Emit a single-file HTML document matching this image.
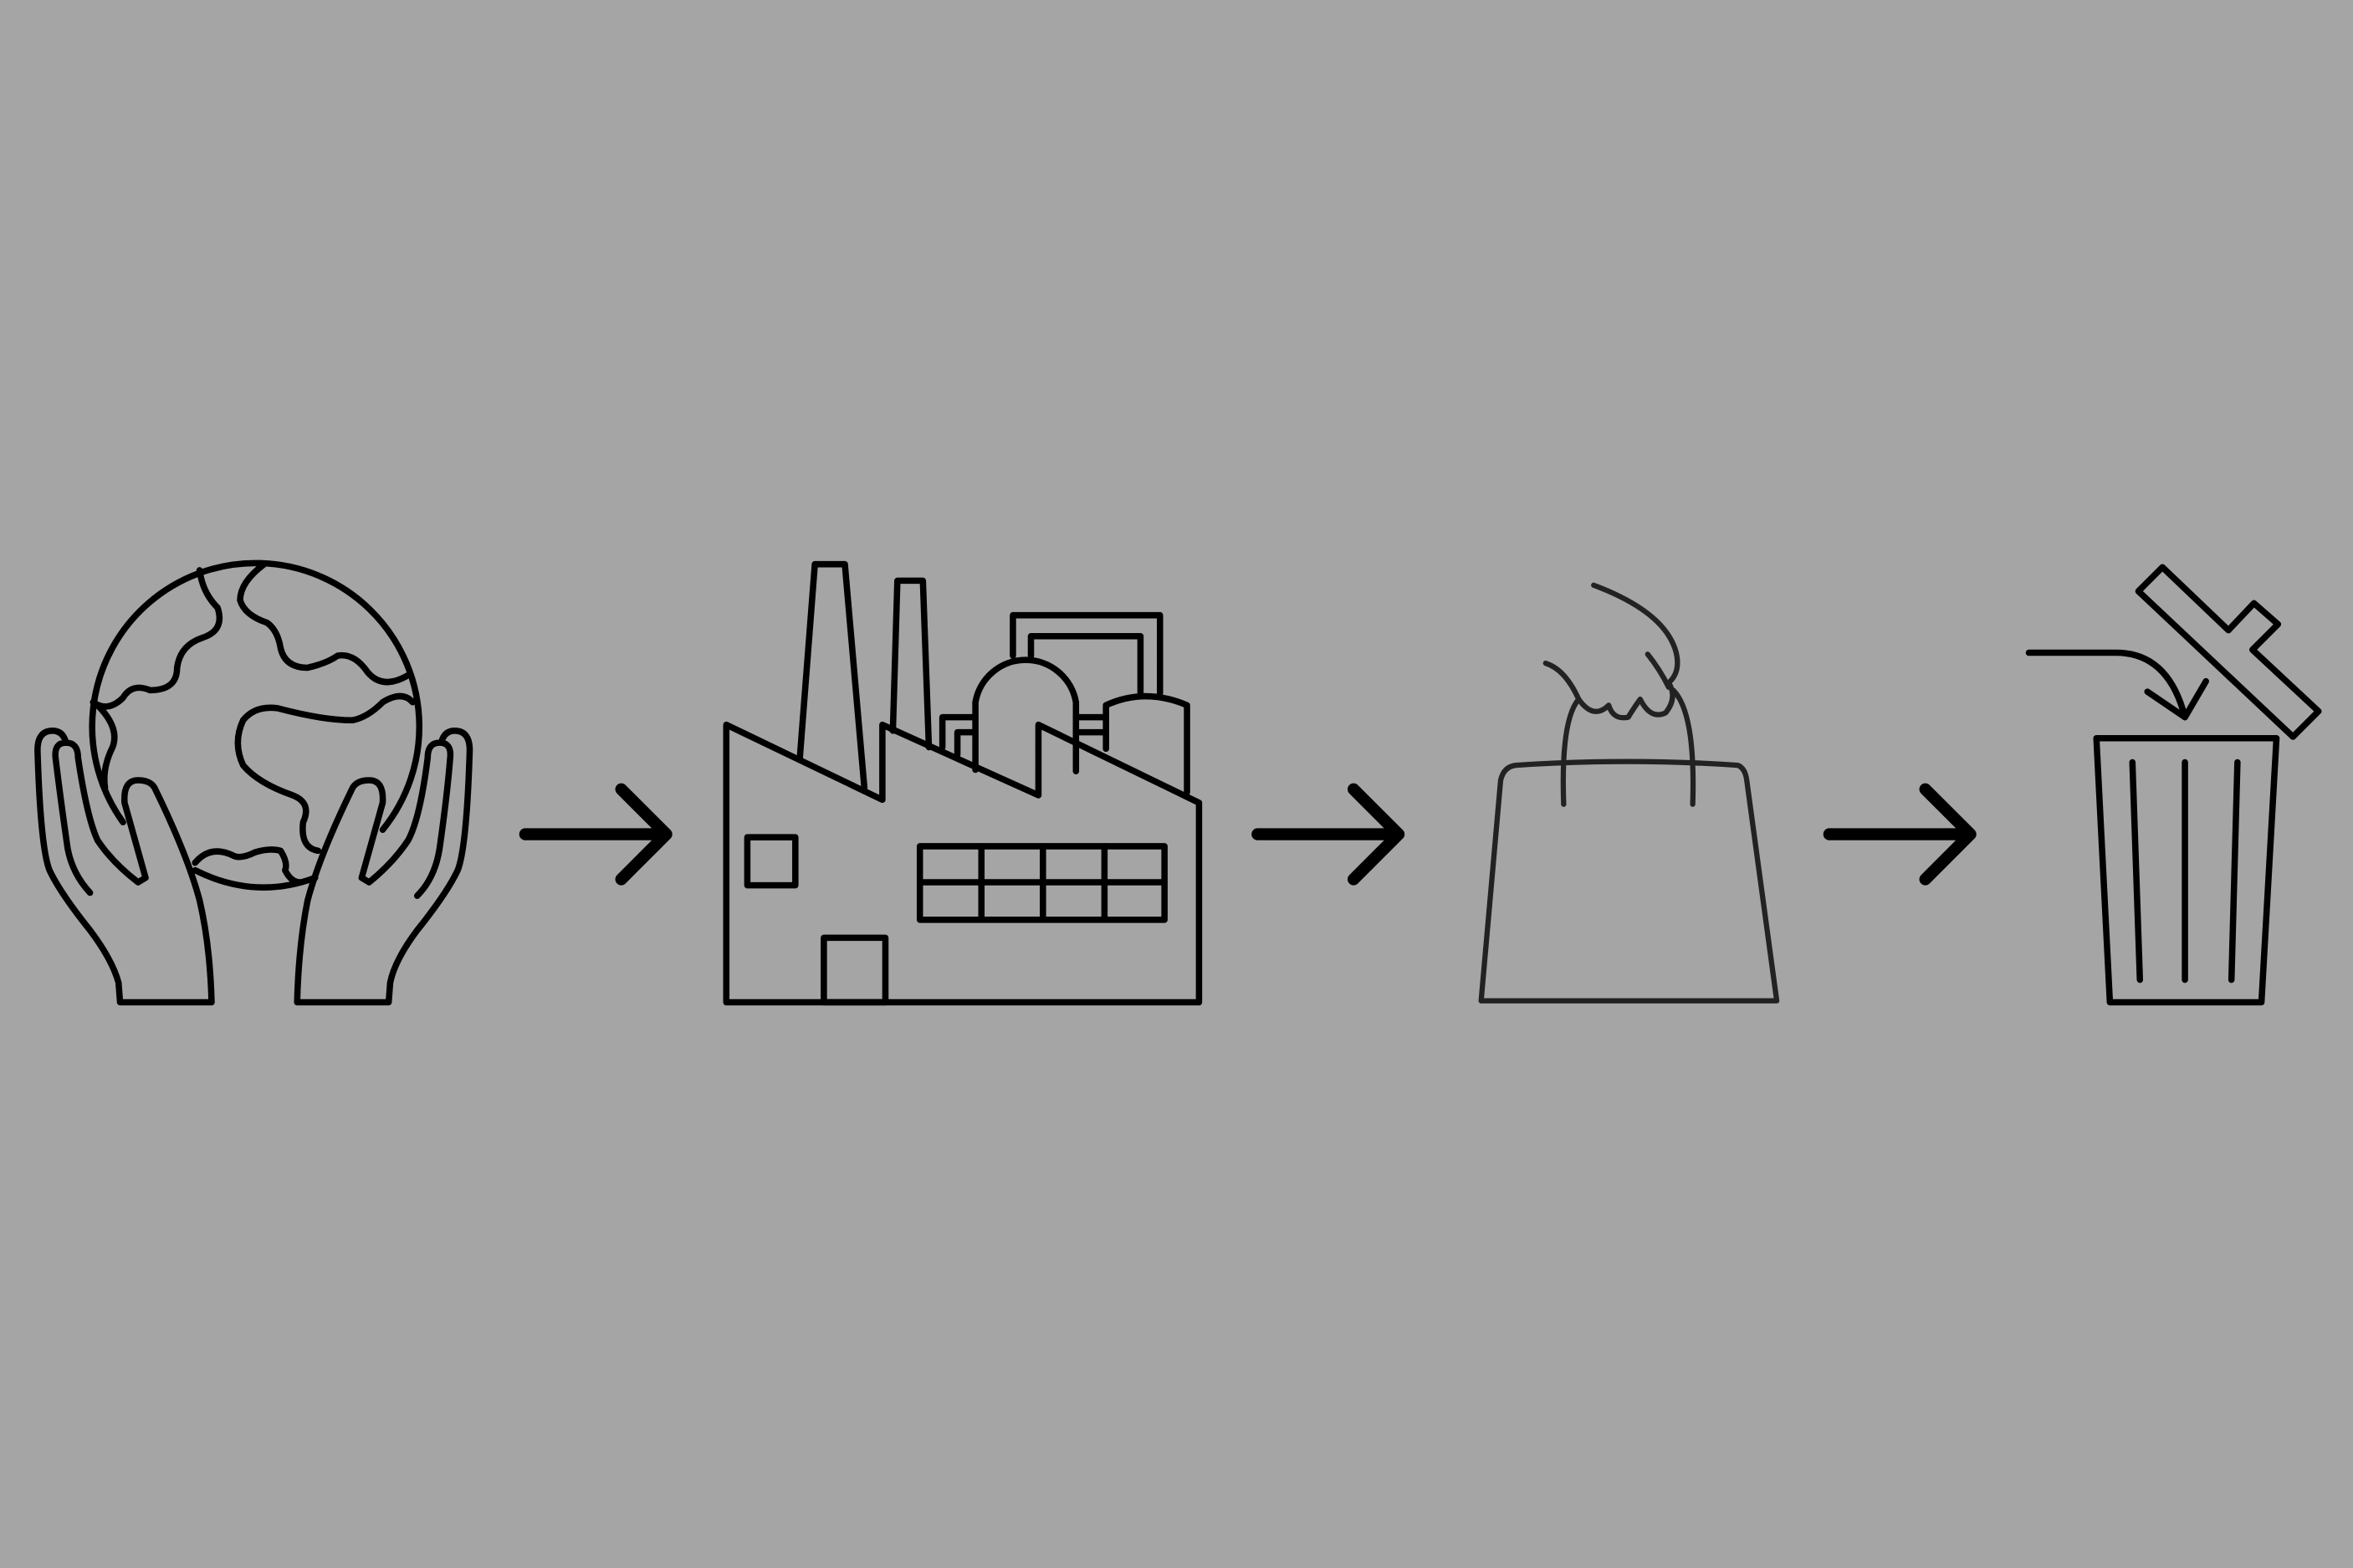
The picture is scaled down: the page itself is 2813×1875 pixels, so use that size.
<!DOCTYPE html>
<html><head><style>html,body{margin:0;padding:0;background:#a5a5a5}svg{display:block}</style></head>
<body>
<svg width="2813" height="1875" viewBox="0 0 1568 1045" xmlns="http://www.w3.org/2000/svg">
<rect width="1568" height="1045" fill="#a5a5a5"/>
<g fill="none" stroke="#000" stroke-width="4.2" stroke-linejoin="round" stroke-linecap="round">
<!-- globe -->
<path d="M82,548 A109,109 0 1 1 255,553"/>
<path d="M130,580 Q170,600 210,585"/>
<path d="M133,380 Q135,395 145,405 Q150,420 135,425 Q120,430 118,445 Q118,460 100,460 Q88,455 82,465 Q72,475 62,468"/>
<path d="M176,376 Q160,388 160,400 Q163,410 178,415 Q185,420 187,432 Q190,445 205,445 Q218,442 225,437 Q236,435 245,448 Q255,460 272,450"/>
<path d="M275,468 Q268,460 255,468 Q245,478 235,480 Q215,480 185,472 Q170,470 162,480 Q155,495 162,510 Q172,522 195,530 Q208,535 202,548 Q200,565 212,567"/>
<path d="M65,470 Q80,485 75,498 Q68,512 70,525"/>
<path d="M130,575 Q140,563 155,570 Q160,573 170,568 Q180,565 187,567 Q192,575 190,580 Q194,588 200,588"/>
<!-- left hand -->
<path d="M60,595 Q48,582 45,565 Q40,530 37,505 Q36,495 44,495 Q52,495 52,505 Q58,545 65,560 Q75,575 92,588 L97,585 L83,535 Q82,520 92,520 Q100,520 103,525 Q125,570 133,600 Q140,630 141,668 L80,668 L79,655 Q75,640 60,620 Q40,595 33,580 Q27,565 25,500 Q25,487 35,487 Q42,487 44,495"/>
<!-- right hand -->
<path d="M278,597 Q290,585 293,565 Q298,530 300,505 Q301,495 293,495 Q285,495 285,505 Q280,545 272,560 Q262,575 246,588 L241,585 L255,535 Q256,520 246,520 Q238,520 235,525 Q213,570 205,600 Q199,630 198,668 L259,668 L260,655 Q263,640 278,620 Q298,595 305,580 Q311,565 313,500 Q313,487 303,487 Q296,487 294,495"/>
<!-- arrows -->
<g stroke-width="8">
<path d="M350,556 L444,556 M414,526 L444,556 L414,586"/>
<path d="M838,556 L932,556 M902,526 L932,556 L902,586"/>
<path d="M1219,556 L1313,556 M1283,526 L1313,556 L1283,586"/>
</g>
<!-- factory -->
<path d="M484,668 L484,483 L588,533 L588,483 L692,530 L692,483 L799,535 L799,668 Z"/>
<path d="M533,505 L543,376 L563,376 L576,525"/>
<path d="M595,487 L598,387 L615,387 L619,498"/>
<rect x="498" y="558" width="32" height="32"/>
<rect x="549" y="625" width="41" height="43"/>
<rect x="613" y="564" width="163" height="49"/>
<path d="M613,588 L776,588 M654,564 L654,613 M695,564 L695,613 M736,564 L736,613"/>
<path d="M650,513 L650,468 A34,34 0 0 1 717,468 L717,514"/>
<path d="M675,437 L675,410 L773,410 L773,462 M687,437 L687,424 L760,424 L760,462"/>
<path d="M737,499 L737,470 Q763,458 791,470 L791,528"/>
<path d="M628,498 L628,478 L648,478 M638,503 L638,488 L648,488 M717,478 L737,478 M717,488 L737,488"/>
<!-- bag -->
<g stroke="#222" stroke-width="3.5">
<path d="M987,667 L1000,520 Q1002,511 1010,510 Q1085,505 1158,510 Q1163,512 1164,520 L1184,667 Z"/>
<path d="M1042,536 Q1040,480 1052,466 M1128,536 Q1130,475 1115,460"/>
<path d="M1030,442 Q1043,446 1052,466 Q1062,480 1072,470 Q1075,480 1085,478 Q1090,470 1093,466 Q1100,480 1110,475 Q1118,465 1112,455 Q1120,448 1117,435 Q1110,408 1062,390 M1098,436 Q1106,446 1112,458"/>
</g>
<!-- trash -->
<path d="M1397,492 L1517,492 L1507,668 L1406,668 Z"/>
<path d="M1421,508 L1426,653 M1456,508 L1456,653 M1491,508 L1487,653"/>
<path d="M1352,435 L1410,435 Q1445,435 1456,478 M1431,461 L1456,478 L1470,454"/>
<path d="M1425,394 L1441,378 L1485,420 L1502,402 L1518,416 L1501,433 L1545,474 L1528,491 Z"/>
</g>
</svg>
</body></html>
